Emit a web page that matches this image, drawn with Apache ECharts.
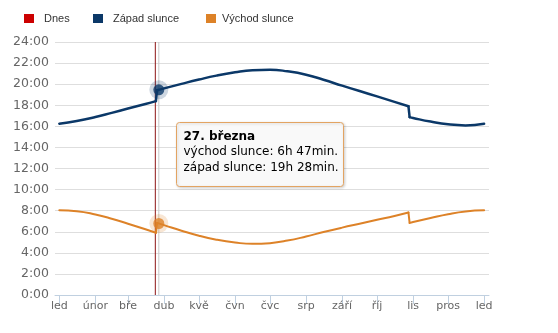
<!DOCTYPE html>
<html>
<head>
<meta charset="utf-8">
<script src="https://cdn.jsdelivr.net/npm/echarts@6/dist/echarts.min.js"></script>
<style>
html,body{margin:0;padding:0;background:#fff;}
#c{width:558px;height:333px;}
</style>
</head>
<body>
<div id="c"></div>
<script>
// ---- data ----
const monthLabels = ['led','únor','bře','dub','kvě','čvn','čvc','srp','září','říj','lis','pros','led'];
const monthStartDays = [0,31,59,90,120,151,181,212,243,273,304,334,365];
const yTicks = [0,2,4,6,8,10,12,14,16,18,20,22,24];

const days    = [0,15,31,45,59,74,83,84,90,105,120,135,151,166,181,196,212,227,243,258,273,288,300,301,304,319,334,349,365];
const sunset  = [16.25,16.5,16.88,17.28,17.69,18.12,18.39,19.42,19.6,20.03,20.44,20.81,21.12,21.32,21.37,21.22,20.9,20.42,19.86,19.35,18.84,18.32,17.9,16.87,16.79,16.45,16.19,16.09,16.25];
const sunrise = [8.03,7.95,7.64,7.24,6.76,6.23,5.9,6.84,6.63,6.1,5.62,5.25,4.98,4.85,4.92,5.16,5.55,5.97,6.39,6.76,7.13,7.5,7.82,6.84,6.92,7.3,7.66,7.92,8.03];
const dstStartDay = 84;   // first day of summer time
const dstEndDay = 301;    // first day back on winter time

const todayDay = 82.5;
const hoverDay = 85.5;
const hoverLabel = '27. března';
const hoverSunrise = 6 + 47/60;
const hoverSunset = 19 + 28/60;

// ---- chart ----
const C_SET = '#0b3868';
const C_RISE = '#dd8228';
const C_TODAY = '#8e1414';

function hm(v){
  let m = Math.round(v*60);
  return Math.floor(m/60) + 'h ' + (m%60) + 'min.';
}

// split a series at the DST jumps: smooth pieces + straight jump connectors
function pieces(name, vals, color, width){
  const i1 = days.indexOf(dstStartDay), i2 = days.indexOf(dstEndDay);
  const pts = days.map((d,i)=>[d,vals[i]]);
  const base = {name:name, type:'line', symbol:'none', z:4, silent:true,
    lineStyle:{color:color, width:width, cap:'round', join:'round'}, itemStyle:{color:color}};
  return [
    Object.assign({}, base, {data:pts.slice(0,i1), smooth:0.5}),
    Object.assign({}, base, {data:pts.slice(i1-1,i1+1), smooth:false}),
    Object.assign({}, base, {data:pts.slice(i1,i2), smooth:0.5}),
    Object.assign({}, base, {data:pts.slice(i2-1,i2+1), smooth:false}),
    Object.assign({}, base, {data:pts.slice(i2), smooth:0.5})
  ];
}

const chart = echarts.init(document.getElementById('c'), null, {renderer:'canvas'});
const legendText = {fontFamily:'Liberation Sans, Arial, sans-serif', fontSize:11, color:'#333'};

chart.setOption({
  animation:false,
  grid:{left:55, right:69, top:42, bottom:38, containLabel:false},
  legend:[
    {left:19, top:8, icon:'rect', itemWidth:10, itemHeight:9, selectedMode:false,
     textStyle:Object.assign({padding:[0,0,0,5]}, legendText),
     data:[{name:'Dnes', itemStyle:{color:'#cc0000', borderWidth:0}}]},
    {left:88, top:8, icon:'rect', itemWidth:10, itemHeight:9, selectedMode:false,
     textStyle:Object.assign({padding:[0,0,0,5]}, legendText),
     data:[{name:'Západ slunce', itemStyle:{color:C_SET, borderWidth:0}}]},
    {left:201, top:8, icon:'rect', itemWidth:10, itemHeight:9, selectedMode:false,
     textStyle:Object.assign({padding:[0,0,0,1]}, legendText),
     data:[{name:'Východ slunce', itemStyle:{color:C_RISE, borderWidth:0}}]}
  ],
  xAxis:{
    type:'value', min:-3.7, max:369.2,
    axisLine:{show:true, lineStyle:{color:'#c0d0e0', width:1}},
    axisTick:{show:true, length:9, customValues:monthStartDays, lineStyle:{color:'#c0d0e0'}},
    axisLabel:{customValues:monthStartDays, margin:6, color:'#666', fontFamily:'DejaVu Sans', fontSize:11,
      formatter:function(v){ return monthLabels[monthStartDays.indexOf(v)]; }},
    splitLine:{show:false}
  },
  yAxis:{
    type:'value', min:0, max:24, interval:2,
    axisLine:{show:false}, axisTick:{show:false},
    axisLabel:{margin:6, color:'#666', fontFamily:'DejaVu Sans', fontSize:12.5,
      formatter:function(v){ return v + ':00'; }},
    splitLine:{lineStyle:{color:'#dedede', width:1}}
  },
  series:[
    {name:'Dnes', type:'line', data:[[todayDay,yTicks[0]],[todayDay,yTicks[yTicks.length-1]]],
     symbol:'none', lineStyle:{color:C_TODAY, width:1}, itemStyle:{color:'#cc0000'}, silent:true, z:3},
    {name:'_cross', type:'line', data:[[hoverDay,yTicks[0]],[hoverDay,yTicks[yTicks.length-1]]],
     symbol:'none', lineStyle:{color:'#c8c8c8', width:1}, silent:true, z:2}
  ].concat(pieces('Západ slunce', sunset, C_SET, 2.5))
   .concat(pieces('Východ slunce', sunrise, C_RISE, 2))
   .concat([
    {name:'_halo', type:'scatter', symbolSize:19, silent:true, z:5,
     data:[{value:[hoverDay,hoverSunset], itemStyle:{color:'rgba(11,56,104,0.25)'}},
           {value:[hoverDay,hoverSunrise], itemStyle:{color:'rgba(221,130,40,0.25)'}}]},
    {name:'_mark', type:'scatter', symbolSize:11, silent:true, z:6,
     data:[{value:[hoverDay,hoverSunset], itemStyle:{color:C_SET}},
           {value:[hoverDay,hoverSunrise], itemStyle:{color:C_RISE}}]}
  ]),
  graphic:[
    {type:'rect', left:176, top:122, z:100, shape:{x:0,y:0,width:167,height:64,r:3},
     style:{fill:'#f9f9f9', stroke:'#e3a462', lineWidth:1,
            shadowBlur:3, shadowOffsetX:1, shadowOffsetY:1, shadowColor:'rgba(0,0,0,0.18)'}},
    {type:'text', left:183.5, top:130.5, z:101,
     style:{
       text:'{t|' + hoverLabel + '}\n{n|východ slunce: ' + hm(hoverSunrise) + '}\n{n|západ slunce: ' + hm(hoverSunset) + '}',
       rich:{
         t:{fontFamily:'DejaVu Sans', fontSize:12, fontWeight:'bold', color:'#333', lineHeight:15.5},
         n:{fontFamily:'DejaVu Sans', fontSize:12, color:'#333', lineHeight:15.5}
       }
     }}
  ]
});
</script>
</body>
</html>
